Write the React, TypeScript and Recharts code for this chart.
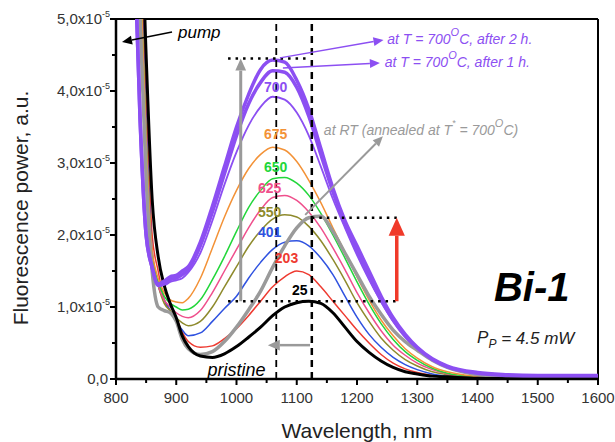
import React from "react"
import {
  LineChart,
  Line,
  XAxis,
  YAxis,
  ReferenceLine,
  ReferenceDot,
} from "recharts"

// wavelength grid, nm
const wavelength = [
  800, 820, 830, 840, 850, 860, 870, 880, 890, 900, 910, 920, 940, 960, 980, 1000, 1020, 1040, 1060, 1080,
  1100, 1120, 1140, 1160, 1180, 1200, 1220, 1240, 1260, 1280, 1300, 1325, 1350, 1400, 1450, 1500, 1550, 1600,
]

// fluorescence power, units of 1e-5 a.u.
const s25 = [
  9, 9, 8, 7, 4.5, 2.5, 1.7, 1.3, 1.05, 0.85, 0.6, 0.45, 0.32, 0.3, 0.35, 0.45, 0.58, 0.72, 0.88, 1.0,
  1.06, 1.08, 1.05, 0.92, 0.72, 0.52, 0.37, 0.25, 0.16, 0.1, 0.07, 0.04, 0.03, 0.01, 0.005, 0, 0, 0,
]
const s203 = [
  9, 9, 8, 6.2, 3.9, 2.0, 1.5, 1.1, 0.95, 0.85, 0.65, 0.52, 0.44, 0.46, 0.56, 0.7, 0.88, 1.08, 1.28, 1.42,
  1.5, 1.45, 1.28, 1.08, 0.88, 0.68, 0.5, 0.34, 0.22, 0.14, 0.09, 0.05, 0.03, 0.01, 0.005, 0, 0, 0,
]
const s401 = [
  9, 9, 8, 6, 3.5, 1.8, 1.3, 1.1, 0.95, 0.8, 0.68, 0.6, 0.64, 0.8, 0.98, 1.15, 1.4, 1.62, 1.8, 1.9,
  1.92, 1.85, 1.68, 1.45, 1.15, 0.86, 0.62, 0.44, 0.3, 0.2, 0.13, 0.07, 0.04, 0.015, 0.005, 0, 0, 0,
]
const s550 = [
  9, 9, 8, 5.8, 3.3, 1.7, 1.3, 1.05, 0.95, 0.85, 0.78, 0.74, 0.8, 1.0, 1.28, 1.56, 1.84, 2.06, 2.22, 2.28,
  2.25, 2.12, 1.92, 1.66, 1.37, 1.06, 0.8, 0.57, 0.4, 0.27, 0.18, 0.1, 0.06, 0.02, 0.01, 0, 0, 0,
]
const s625 = [
  9, 9, 8, 5.8, 3.3, 1.7, 1.3, 1.1, 1.0, 0.92, 0.87, 0.85, 0.95, 1.2, 1.5, 1.8, 2.1, 2.35, 2.52, 2.55,
  2.48, 2.32, 2.1, 1.82, 1.52, 1.2, 0.92, 0.67, 0.47, 0.33, 0.22, 0.13, 0.07, 0.02, 0.01, 0, 0, 0,
]
const s650 = [
  9, 9, 8, 5.8, 3.3, 1.7, 1.35, 1.15, 1.05, 1.0, 0.96, 0.97, 1.1, 1.38, 1.7, 2.05, 2.38, 2.62, 2.78, 2.8,
  2.72, 2.55, 2.3, 2.0, 1.68, 1.35, 1.04, 0.77, 0.55, 0.38, 0.26, 0.15, 0.08, 0.03, 0.01, 0.005, 0, 0,
]
const s675 = [
  9, 9, 8, 5.8, 3.3, 1.8, 1.4, 1.2, 1.1, 1.07, 1.06, 1.12, 1.4, 1.82, 2.25, 2.62, 2.92, 3.12, 3.22, 3.18,
  3.02, 2.76, 2.45, 2.1, 1.76, 1.42, 1.1, 0.82, 0.6, 0.42, 0.29, 0.17, 0.1, 0.035, 0.015, 0.005, 0, 0,
]
const s700 = [
  9, 9, 6.2, 3.6, 2.0, 1.55, 1.3, 1.3, 1.35, 1.37, 1.4, 1.48, 1.75, 2.2, 2.7, 3.15, 3.52, 3.78, 3.92, 3.88,
  3.7, 3.38, 2.95, 2.5, 2.1, 1.72, 1.38, 1.07, 0.8, 0.58, 0.42, 0.27, 0.17, 0.08, 0.04, 0.03, 0.02, 0.02,
]
const s700h1 = [
  9, 9, 6.2, 3.6, 2.0, 1.55, 1.3, 1.32, 1.38, 1.4, 1.45, 1.52, 1.85, 2.32, 2.85, 3.38, 3.82, 4.12, 4.28, 4.26,
  4.05, 3.65, 3.12, 2.6, 2.15, 1.78, 1.42, 1.1, 0.82, 0.6, 0.43, 0.27, 0.17, 0.08, 0.05, 0.04, 0.04, 0.04,
]
const s700h2 = [
  9, 9, 6.2, 3.6, 2.0, 1.55, 1.32, 1.36, 1.42, 1.44, 1.5, 1.56, 1.9, 2.4, 2.95, 3.5, 3.95, 4.3, 4.43, 4.4,
  4.15, 3.75, 3.2, 2.65, 2.2, 1.85, 1.5, 1.15, 0.85, 0.62, 0.44, 0.28, 0.18, 0.09, 0.06, 0.05, 0.05, 0.05,
]
const sRT = [
  9, 9, 8, 5, 2.8, 1.5, 1.0, 0.95, 0.92, 0.8, 0.55, 0.42, 0.34, 0.38, 0.52, 0.72, 0.96, 1.22, 1.55, 1.85,
  2.1, 2.24, 2.26, 2.05, 1.75, 1.45, 1.15, 0.9, 0.68, 0.52, 0.4, 0.26, 0.16, 0.06, 0.03, 0.02, 0.01, 0.01,
]

const xTicks = [800, 850, 900, 950, 1000, 1050, 1100, 1150, 1200, 1250, 1300, 1350, 1400, 1450, 1500, 1550, 1600]
const yTicks = [0, 0.5, 1, 1.5, 2, 2.5, 3, 3.5, 4, 4.5, 5]

const data = wavelength.map((wl, i) => ({
  wl,
  s25: s25[i],
  s203: s203[i],
  s401: s401[i],
  s550: s550[i],
  s625: s625[i],
  s650: s650[i],
  s675: s675[i],
  s700: s700[i],
  s700h1: s700h1[i],
  s700h2: s700h2[i],
  sRT: sRT[i],
}))

const FONT = "'Liberation Sans', Arial, sans-serif"
const PURPLE = "#8c4ff2"
const GRAY = "#9a9a9a"

const XTick = (props: any) => {
  const { x, y, payload } = props
  const major = payload.value % 100 === 0
  return (
    <g>
      <line x1={x} x2={x} y1={y} y2={y + (major ? 6 : 4)} stroke="#000" strokeWidth={2} />
      {major && (
        <text x={x} y={y + 24} textAnchor="middle" fontSize={15} fill="#333" fontFamily={FONT}>
          {payload.value}
        </text>
      )}
    </g>
  )
}

const YTick = (props: any) => {
  const { x, y, payload } = props
  const v = payload.value
  const major = Number.isInteger(v)
  return (
    <g>
      <line x1={x} x2={x - (major ? 6 : 4)} y1={y} y2={y} stroke="#000" strokeWidth={2} />
      {major && (
        <text x={v === 0 ? x - 8 : x - 6} y={y + 5} textAnchor="end" fontSize={15} fill="#333" fontFamily={FONT}>
          {v === 0 ? (
            "0,0"
          ) : (
            <>
              {v},0x10
              <tspan dy={-7} fontSize={9}>-5</tspan>
            </>
          )}
        </text>
      )}
    </g>
  )
}

// line with an arrow head at the end point
const arrow = (color: string, width: number, head: number) => (p: any) => {
  const { x1, y1, x2, y2 } = p
  const a = Math.atan2(y2 - y1, x2 - x1)
  const bx = x2 - head * Math.cos(a)
  const by = y2 - head * Math.sin(a)
  const w = head * 0.45
  const nx = -Math.sin(a) * w
  const ny = Math.cos(a) * w
  return (
    <g>
      <line x1={x1} y1={y1} x2={bx} y2={by} stroke={color} strokeWidth={width} />
      <polygon points={`${x2},${y2} ${bx + nx},${by + ny} ${bx - nx},${by - ny}`} fill={color} />
    </g>
  )
}

const label = (content: React.ReactNode, opts: any) => (p: any) => (
  <text
    x={p.cx}
    y={p.cy}
    textAnchor={opts.anchor || "middle"}
    dominantBaseline="central"
    fontSize={opts.size || 14}
    fontWeight={opts.weight || "normal"}
    fontStyle={opts.italic ? "italic" : "normal"}
    fill={opts.color || "#000"}
    fontFamily={FONT}
  >
    {content}
  </text>
)

export default function App() {
  return (
    <div style={{ position: "absolute", left: 0, top: 0, width: 615, height: 442, background: "#fff" }}>
      <LineChart
        width={615}
        height={442}
        data={data}
        margin={{ top: 19, right: 17, left: 0, bottom: 0 }}
      >
        <XAxis
          dataKey="wl"
          type="number"
          domain={[800, 1600]}
          ticks={xTicks}
          allowDataOverflow
          height={63}
          tickSize={0}
          tickMargin={0}
          tickLine={false}
          tick={<XTick />}
          axisLine={{ stroke: "#000", strokeWidth: 2.5 }}
          interval={0}
        />
        <YAxis
          type="number"
          domain={[0, 5]}
          ticks={yTicks}
          allowDataOverflow
          width={116}
          tickSize={0}
          tickMargin={0}
          tickLine={false}
          tick={<YTick />}
          axisLine={{ stroke: "#000", strokeWidth: 2.5 }}
          interval={0}
        />

        <ReferenceLine y={5} stroke="#000" strokeWidth={2} />
        <ReferenceLine x={1600} stroke="#000" strokeWidth={2} />

        <Line dataKey="s203" type="monotone" stroke="#ee3a30" strokeWidth={1.5} dot={false} isAnimationActive={false} />
        <Line dataKey="s401" type="monotone" stroke="#2f52e0" strokeWidth={1.5} dot={false} isAnimationActive={false} />
        <Line dataKey="s550" type="monotone" stroke="#8e8a2c" strokeWidth={1.5} dot={false} isAnimationActive={false} />
        <Line dataKey="s625" type="monotone" stroke="#ef4f8c" strokeWidth={1.5} dot={false} isAnimationActive={false} />
        <Line dataKey="s650" type="monotone" stroke="#22d63a" strokeWidth={1.5} dot={false} isAnimationActive={false} />
        <Line dataKey="s675" type="monotone" stroke="#f39237" strokeWidth={1.5} dot={false} isAnimationActive={false} />
        <Line dataKey="s700" type="monotone" stroke={PURPLE} strokeWidth={1.8} dot={false} isAnimationActive={false} />
        <Line dataKey="sRT" type="monotone" stroke={GRAY} strokeWidth={3.5} dot={false} isAnimationActive={false} />
        <Line dataKey="s25" type="monotone" stroke="#000" strokeWidth={3} dot={false} isAnimationActive={false} />
        <Line dataKey="s700h1" type="monotone" stroke={PURPLE} strokeWidth={3.5} dot={false} isAnimationActive={false} />
        <Line dataKey="s700h2" type="monotone" stroke={PURPLE} strokeWidth={3.5} dot={false} isAnimationActive={false} />

        {/* peak position markers */}
        <ReferenceLine x={1066} stroke="#000" strokeWidth={1.8} strokeDasharray="7 5" />
        <ReferenceLine x={1125} stroke="#000" strokeWidth={2.5} strokeDasharray="7 5" />
        <ReferenceLine segment={[{ x: 986, y: 4.45 }, { x: 1118, y: 4.45 }]} stroke="#000" strokeWidth={2.5} strokeDasharray="2.5 5" />
        <ReferenceLine segment={[{ x: 986, y: 1.08 }, { x: 1266, y: 1.08 }]} stroke="#000" strokeWidth={2.5} strokeDasharray="2.5 5" />
        <ReferenceLine segment={[{ x: 1125, y: 2.24 }, { x: 1266, y: 2.24 }]} stroke="#000" strokeWidth={2.5} strokeDasharray="2.5 5" />

        {/* arrows */}
        <ReferenceLine segment={[{ x: 1007, y: 1.08 }, { x: 1007, y: 4.45 }]} shape={arrow(GRAY, 3, 12)} />
        <ReferenceLine segment={[{ x: 1266, y: 1.08 }, { x: 1266, y: 2.24 }]} shape={arrow("#f03a2a", 3.5, 18)} />
        <ReferenceLine segment={[{ x: 1122, y: 0.47 }, { x: 1052, y: 0.47 }]} shape={arrow(GRAY, 2.5, 12)} />
        <ReferenceLine segment={[{ x: 1114, y: 2.28 }, { x: 1243, y: 3.37 }]} shape={arrow(GRAY, 2, 10)} />
        <ReferenceLine segment={[{ x: 1072, y: 4.46 }, { x: 1244, y: 4.71 }]} shape={arrow(PURPLE, 1.5, 10)} />
        <ReferenceLine segment={[{ x: 1077, y: 4.32 }, { x: 1238, y: 4.39 }]} shape={arrow(PURPLE, 1.5, 10)} />
        <ReferenceLine segment={[{ x: 893, y: 4.82 }, { x: 810, y: 4.68 }]} shape={arrow("#000", 1.5, 10)} />

        {/* curve labels */}
        <ReferenceDot x={1065} y={4.05} r={0} shape={label("700", { color: PURPLE, weight: "bold", size: 14 })} />
        <ReferenceDot x={1065} y={3.4} r={0} shape={label("675", { color: "#f39237", weight: "bold", size: 14 })} />
        <ReferenceDot x={1065} y={2.95} r={0} shape={label("650", { color: "#22d63a", weight: "bold", size: 14 })} />
        <ReferenceDot x={1055} y={2.65} r={0} shape={label("625", { color: "#ef4f8c", weight: "bold", size: 14 })} />
        <ReferenceDot x={1055} y={2.32} r={0} shape={label("550", { color: "#8e8a2c", weight: "bold", size: 14 })} />
        <ReferenceDot x={1055} y={2.04} r={0} shape={label("401", { color: "#2f52e0", weight: "bold", size: 14 })} />
        <ReferenceDot x={1083} y={1.68} r={0} shape={label("203", { color: "#ee3a30", weight: "bold", size: 14 })} />
        <ReferenceDot x={1105} y={1.23} r={0} shape={label("25", { color: "#000", weight: "bold", size: 14 })} />

        <ReferenceDot x={1000} y={0.13} r={0} shape={label("pristine", { italic: true, size: 18 })} />
        <ReferenceDot x={903} y={4.81} r={0} shape={label("pump", { italic: true, size: 17, anchor: "start" })} />

        <ReferenceDot
          x={1250}
          y={4.72}
          r={0}
          shape={label(
            <>
              at T = 700<tspan dy={-7} fontSize={11}>O</tspan>
              <tspan dy={7}>C, after 2 h.</tspan>
            </>,
            { italic: true, color: PURPLE, size: 14, anchor: "start" }
          )}
        />
        <ReferenceDot
          x={1246}
          y={4.4}
          r={0}
          shape={label(
            <>
              at T = 700<tspan dy={-7} fontSize={11}>O</tspan>
              <tspan dy={7}>C, after 1 h.</tspan>
            </>,
            { italic: true, color: PURPLE, size: 14, anchor: "start" }
          )}
        />
        <ReferenceDot
          x={1145}
          y={3.46}
          r={0}
          shape={label(
            <>
              at  RT  (annealed  at T<tspan dy={-7} fontSize={9}>*</tspan>
              <tspan dy={7}> = 700</tspan>
              <tspan dy={-7} fontSize={11}>O</tspan>
              <tspan dy={7}>C)</tspan>
            </>,
            { italic: true, color: GRAY, size: 14, anchor: "start" }
          )}
        />

        <ReferenceDot x={1490} y={1.28} r={0} shape={label("Bi-1", { italic: true, weight: "bold", size: 40 })} />
        <ReferenceDot
          x={1480}
          y={0.57}
          r={0}
          shape={label(
            <>
              P<tspan dy={6} fontSize={12}>P</tspan>
              <tspan dy={-6}> = 4.5 mW</tspan>
            </>,
            { italic: true, color: "#222", size: 17 }
          )}
        />
      </LineChart>

      <div
        style={{
          position: "absolute",
          left: 21,
          top: 208,
          transform: "translate(-50%, -50%) rotate(-90deg)",
          whiteSpace: "nowrap",
          fontFamily: FONT,
          fontSize: 21,
          color: "#222",
        }}
      >
        Fluorescence power, a.u.
      </div>
      <div
        style={{
          position: "absolute",
          left: 357,
          top: 431,
          transform: "translate(-50%, -50%)",
          whiteSpace: "nowrap",
          fontFamily: FONT,
          fontSize: 21,
          color: "#222",
        }}
      >
        Wavelength, nm
      </div>
    </div>
  )
}
